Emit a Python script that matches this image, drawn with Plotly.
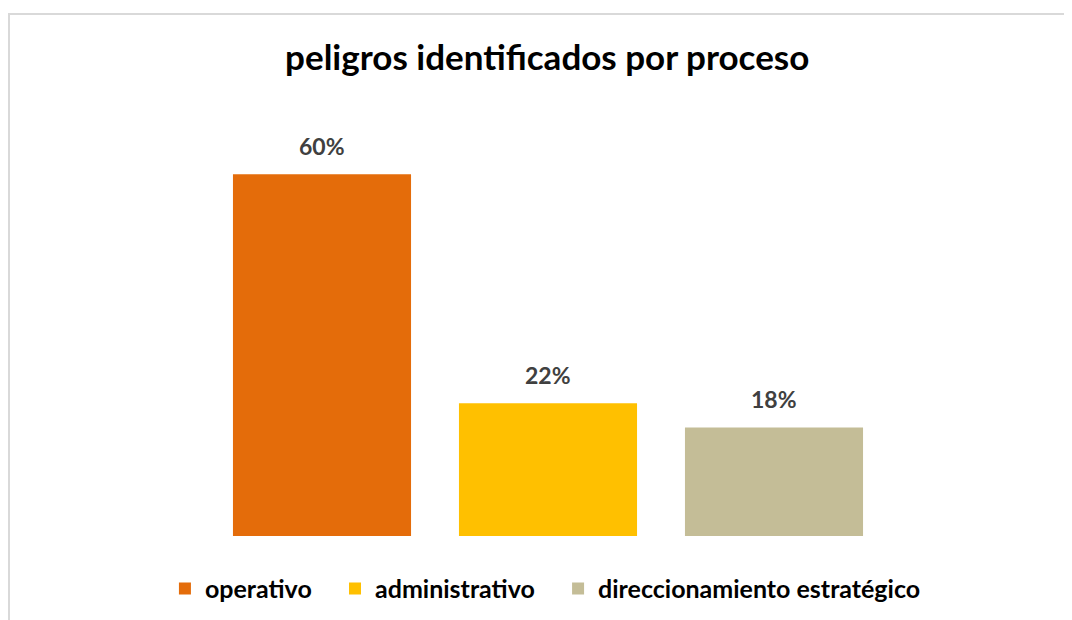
import plotly.graph_objects as go

# data
procesos = ["operativo", "administrativo", "direccionamiento estratégico"]
porcentajes = [0.60, 0.22, 0.18]
colores = ["#E46C0A", "#FFC000", "#C4BD97"]

fig = go.Figure()
for i, (nombre, valor, color) in enumerate(zip(procesos, porcentajes, colores)):
    # trailing non-breaking spaces widen the gap between legend entries
    etiqueta = nombre + ("\u00a0" * 3 if i < len(procesos) - 1 else "")
    fig.add_trace(go.Bar(x=[nombre], y=[valor], name=etiqueta, marker_color=color,
                         marker_line_width=0, hoverinfo="skip"))
    # data label above each bar
    fig.add_annotation(x=nombre, y=valor, text=f"{valor:.0%}", showarrow=False,
                       yanchor="bottom", yshift=12,
                       font=dict(family="Lato", size=23, color="#404040", weight="bold"))

fig.update_layout(
    width=1072, height=620,
    margin=dict(l=201, r=193, t=106, b=92, autoexpand=False),
    paper_bgcolor="white", plot_bgcolor="white",
    barmode="overlay", bargap=0.212,
    title=dict(text="<b>peligros identificados por proceso</b>", x=0.503, xanchor="center",
               y=0.919, yanchor="middle",
               font=dict(family="Lato", size=35, color="#000000")),
    xaxis=dict(visible=False),
    yaxis=dict(visible=False, range=[0, 0.70]),
    showlegend=True,
    legend=dict(orientation="h", x=-0.065, xanchor="left", y=-0.125, yanchor="middle",
                font=dict(family="Lato", size=25, color="#000000", weight="bold"),
                itemwidth=30, traceorder="normal"),
    shapes=[dict(type="rect", xref="paper", yref="paper", x0=-0.295, x1=1.5,
                 y0=-0.5, y1=1.237, line=dict(color="#D9D9D9", width=2), layer="below")],
)

fig.write_html("out.html")
